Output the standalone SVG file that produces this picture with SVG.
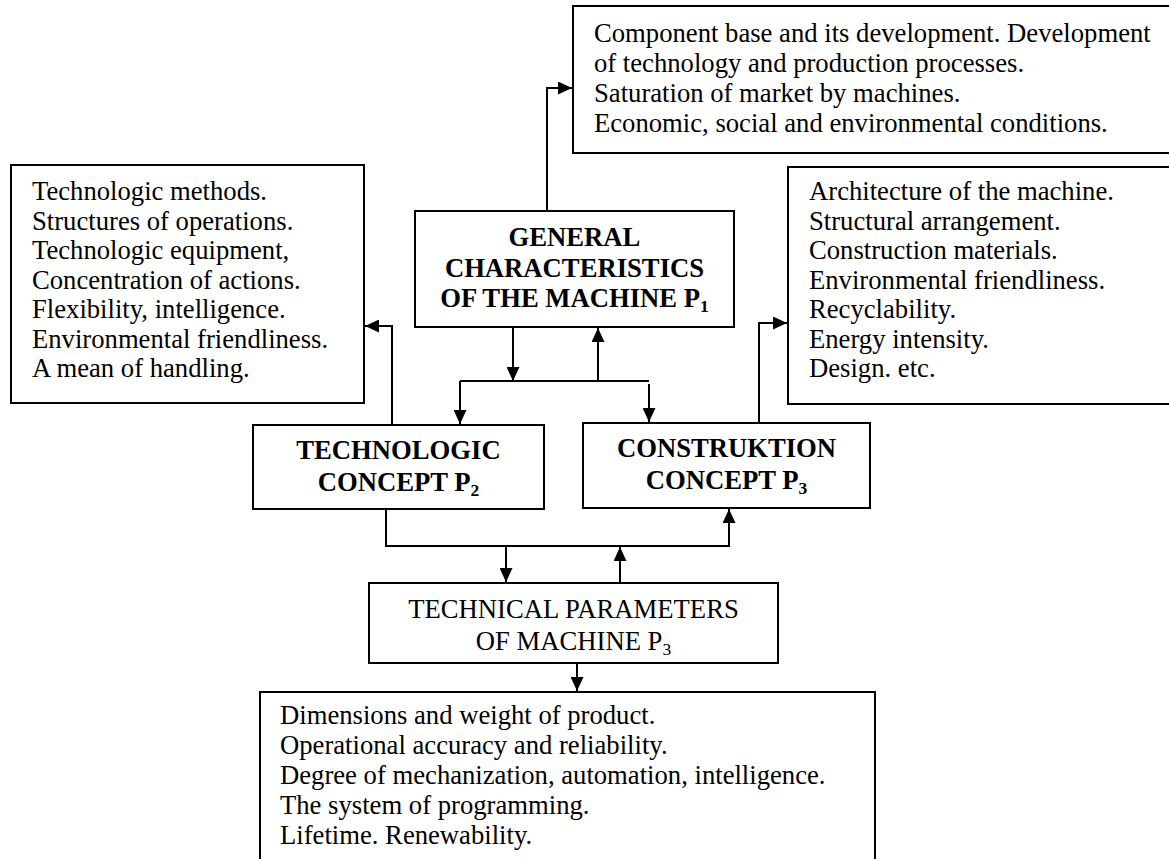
<svg xmlns="http://www.w3.org/2000/svg" width="1169" height="859" viewBox="0 0 1169 859">
  <style>
    .box { fill: #fff; stroke: #000; stroke-width: 2; }
    .txt { font-family: "Liberation Serif", "Times New Roman", serif; font-size: 26.67px; fill: #000; }
    .bold { font-weight: bold; }
    .mid { text-anchor: middle; }
    .sub { font-size: 17.5px; }
    .wire { fill: none; stroke: #000; stroke-width: 2; }
  </style>
  <defs>
    <marker id="arrow" markerUnits="userSpaceOnUse" markerWidth="15" markerHeight="13" refX="14" refY="6.5" orient="auto">
      <path d="M0,0 L14,6.5 L0,13 z" fill="#000"/>
    </marker>
  </defs>
  <rect width="1169" height="859" fill="#fff"/>

  <!-- outer factors -->
  <g id="node-environment">
    <rect class="box" x="573" y="6" width="600" height="147"/>
    <text class="txt" x="594" y="42">Component base and its development. Development</text>
    <text class="txt" x="594" y="72">of technology and production processes.</text>
    <text class="txt" x="594" y="102">Saturation of market by machines.</text>
    <text class="txt" x="594" y="132">Economic, social and environmental conditions.</text>
  </g>

  <g id="node-tech-details">
    <rect class="box" x="11" y="165" width="353" height="238"/>
    <text class="txt" x="32" y="200">Technologic methods.</text>
    <text class="txt" x="32" y="229.5">Structures of operations.</text>
    <text class="txt" x="32" y="259">Technologic equipment,</text>
    <text class="txt" x="32" y="288.5">Concentration of actions.</text>
    <text class="txt" x="32" y="318">Flexibility, intelligence.</text>
    <text class="txt" x="32" y="347.5">Environmental friendliness.</text>
    <text class="txt" x="32" y="377">A mean of handling.</text>
  </g>

  <g id="node-general">
    <rect class="box" x="415" y="211" width="319" height="116"/>
    <text class="txt bold mid" x="574.5" y="246">GENERAL</text>
    <text class="txt bold mid" x="574.5" y="277">CHARACTERISTICS</text>
    <text class="txt bold mid" x="574.5" y="307">OF THE MACHINE P<tspan class="sub" dy="5">1</tspan></text>
  </g>

  <g id="node-construction-details">
    <rect class="box" x="788" y="167" width="390" height="237"/>
    <text class="txt" x="809" y="200">Architecture of the machine.</text>
    <text class="txt" x="809" y="229.5">Structural arrangement.</text>
    <text class="txt" x="809" y="259">Construction materials.</text>
    <text class="txt" x="809" y="288.5">Environmental friendliness.</text>
    <text class="txt" x="809" y="318">Recyclability.</text>
    <text class="txt" x="809" y="347.5">Energy intensity.</text>
    <text class="txt" x="809" y="377">Design. etc.</text>
  </g>

  <g id="node-technologic">
    <rect class="box" x="253" y="425" width="291" height="84"/>
    <text class="txt bold mid" x="398.5" y="459">TECHNOLOGIC</text>
    <text class="txt bold mid" x="398.5" y="491">CONCEPT P<tspan class="sub" dy="5">2</tspan></text>
  </g>

  <g id="node-construction">
    <rect class="box" x="583" y="423" width="287" height="85"/>
    <text class="txt bold mid" x="726.5" y="457">CONSTRUKTION</text>
    <text class="txt bold mid" x="726.5" y="489">CONCEPT P<tspan class="sub" dy="5">3</tspan></text>
  </g>

  <g id="node-parameters">
    <rect class="box" x="369" y="583" width="409" height="80"/>
    <text class="txt mid" x="573.5" y="618">TECHNICAL PARAMETERS</text>
    <text class="txt mid" x="573.5" y="650">OF MACHINE P<tspan class="sub" dy="5">3</tspan></text>
  </g>

  <g id="node-parameter-details">
    <rect class="box" x="260" y="692" width="615" height="190"/>
    <text class="txt" x="280" y="724">Dimensions and weight of product.</text>
    <text class="txt" x="280" y="754">Operational accuracy and reliability.</text>
    <text class="txt" x="280" y="784">Degree of mechanization, automation, intelligence.</text>
    <text class="txt" x="280" y="814">The system of programming.</text>
    <text class="txt" x="280" y="844">Lifetime. Renewability.</text>
  </g>

  <g id="connectors">
    <path class="wire" d="M547,211 V88 H572" marker-end="url(#arrow)"/>
    <path class="wire" d="M392,425 V326 H365" marker-end="url(#arrow)"/>
    <path class="wire" d="M759,423 V323 H787" marker-end="url(#arrow)"/>
    <path class="wire" d="M513,327 V381" marker-end="url(#arrow)"/>
    <path class="wire" d="M598,381 V328" marker-end="url(#arrow)"/>
    <path class="wire" d="M460,381 H649"/>
    <path class="wire" d="M460,381 V424" marker-end="url(#arrow)"/>
    <path class="wire" d="M649,384 V422" marker-end="url(#arrow)"/>
    <path class="wire" d="M386,509 V546 H729 V509" marker-end="url(#arrow)"/>
    <path class="wire" d="M506,546 V582" marker-end="url(#arrow)"/>
    <path class="wire" d="M620,583 V547" marker-end="url(#arrow)"/>
    <path class="wire" d="M577,663 V691" marker-end="url(#arrow)"/>
  </g>
</svg>
